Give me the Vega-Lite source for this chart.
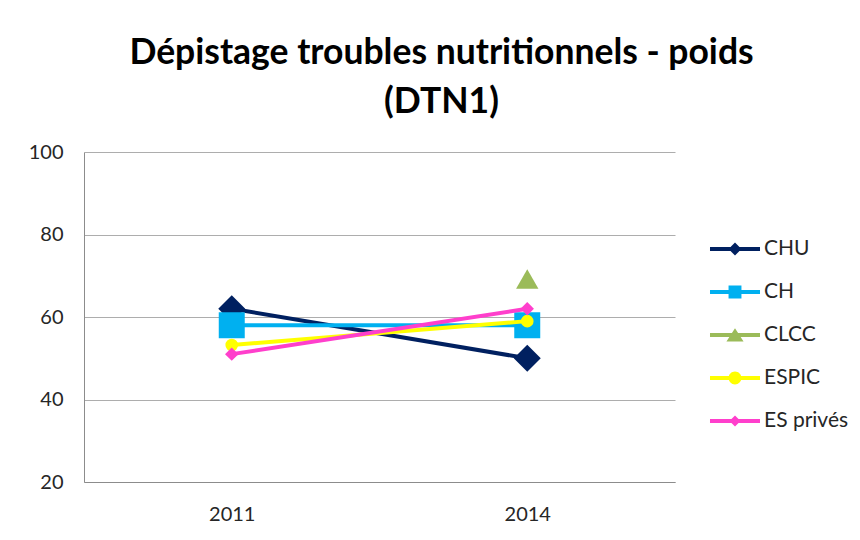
{
  "$schema": "https://vega.github.io/schema/vega-lite/v6.json",
  "width": 591,
  "height": 330,
  "autosize": {"type": "none"},
  "padding": {"left": 84, "top": 152, "right": 185, "bottom": 58},
  "background": "white",
  "title": {
    "text": ["Dépistage troubles nutritionnels - poids", "(DTN1)"],
    "font": "Lato",
    "fontSize": 35.5,
    "fontWeight": "bold",
    "color": "#000000",
    "lineHeight": 49,
    "anchor": "middle",
    "dx": 62,
    "offset": 22
  },
  "config": {
    "view": {"stroke": null},
    "axis": {"labelFont": "Lato", "labelFontSize": 20, "labelColor": "#262626", "ticks": false, "title": null, "domainColor": "#8C8C8C", "gridColor": "#ADADAD"},
    "legend": {"labelFont": "Lato", "labelFontSize": 21, "labelColor": "#262626"}
  },
  "data": {
    "values": [
      {"year": "2011", "series": "CHU", "value": 62},
      {"year": "2014", "series": "CHU", "value": 50},
      {"year": "2011", "series": "CH", "value": 58},
      {"year": "2014", "series": "CH", "value": 58},
      {"year": "2014", "series": "CLCC", "value": 69.2},
      {"year": "2011", "series": "ESPIC", "value": 53.2},
      {"year": "2014", "series": "ESPIC", "value": 59},
      {"year": "2011", "series": "ES privés", "value": 51},
      {"year": "2014", "series": "ES privés", "value": 62}
    ]
  },
  "encoding": {
    "x": {"field": "year", "type": "ordinal", "scale": {"type": "point", "padding": 0.5, "domain": ["2011", "2014"]}, "axis": {"labelAngle": 0, "labelPadding": 22, "grid": false}},
    "y": {"field": "value", "type": "quantitative", "scale": {"domain": [20, 100]}, "axis": {"values": [20, 40, 60, 80, 100], "labelPadding": 21, "grid": true}}
  },
  "layer": [
    {
      "transform": [{"filter": "datum.series === 'CHU'"}],
      "layer": [
        {"mark": {"type": "line", "strokeWidth": 4, "color": "#002060"}, "encoding": {}},
        {"mark": {"type": "point", "filled": true, "opacity": 1, "shape": "diamond", "size": 729, "color": "#002060"}, "encoding": {}}
      ]
    },
    {
      "transform": [{"filter": "datum.series === 'CH'"}],
      "layer": [
        {"mark": {"type": "line", "strokeWidth": 4, "color": "#00B0F0"}, "encoding": {}},
        {"mark": {"type": "point", "filled": true, "opacity": 1, "shape": "square", "size": 676, "color": "#00B0F0"}, "encoding": {}}
      ]
    },
    {
      "transform": [{"filter": "datum.series === 'CLCC'"}],
      "layer": [
        {"mark": {"type": "point", "filled": true, "opacity": 1, "shape": "triangle-up", "size": 500, "color": "#9BBB59"}, "encoding": {}}
      ]
    },
    {
      "transform": [{"filter": "datum.series === 'ESPIC'"}],
      "layer": [
        {"mark": {"type": "line", "strokeWidth": 4, "color": "#FFFF00"}, "encoding": {}},
        {"mark": {"type": "point", "filled": true, "opacity": 1, "shape": "circle", "size": 160, "color": "#FFFF00"}, "encoding": {}}
      ]
    },
    {
      "transform": [{"filter": "datum.series === 'ES privés'"}],
      "layer": [
        {"mark": {"type": "line", "strokeWidth": 4, "color": "#FF3FCC"}, "encoding": {}},
        {"mark": {"type": "point", "filled": true, "opacity": 1, "shape": "diamond", "size": 180, "color": "#FF3FCC"}, "encoding": {}}
      ]
    },
    {
      "data": {"values": []},
      "mark": {"type": "point", "filled": true, "opacity": 1, "size": 900},
      "encoding": {
        "x": null,
        "y": null,
        "color": {"field": "series", "type": "nominal", "scale": {"domain": ["CHU", "CH", "CLCC", "ESPIC", "ES privés"], "range": ["#002060", "#00B0F0", "#9BBB59", "#FFFF00", "#FF3FCC"]},
          "legend": {"title": null, "orient": "none", "legendX": 636, "legendY": 82, "padding": 0, "symbolSize": 900, "symbolStrokeWidth": 0, "labelOffset": 14, "rowPadding": 18}},
        "shape": {"field": "series", "type": "nominal", "scale": {"domain": ["CHU", "CH", "CLCC", "ESPIC", "ES privés"], "range": [
          "M-1.667,-0.133H1.667V0.133H-1.667ZM-0.43,0L0,-0.43L0.43,0L0,0.43Z",
          "M-1.667,-0.133H1.667V0.133H-1.667ZM-0.43,-0.43H0.43V0.43H-0.43Z",
          "M-1.667,-0.133H1.667V0.133H-1.667ZM0,-0.45L0.57,0.43L-0.57,0.43Z",
          "M-1.667,-0.133H1.667V0.133H-1.667ZM-0.43,0A0.43,0.43 0 1,1 0.43,0A0.43,0.43 0 1,1 -0.43,0Z",
          "M-1.667,-0.133H1.667V0.133H-1.667ZM-0.37,0L0,-0.37L0.37,0L0,0.37Z"
        ]}, "legend": {"title": null, "orient": "none", "legendX": 636, "legendY": 82, "padding": 0, "symbolSize": 900, "symbolStrokeWidth": 0, "labelOffset": 14, "rowPadding": 18}}
      }
    }
  ]
}
